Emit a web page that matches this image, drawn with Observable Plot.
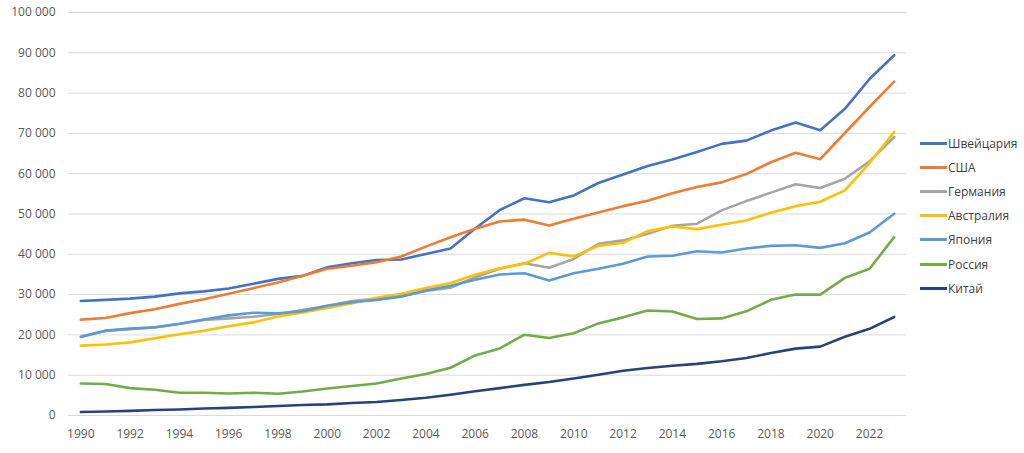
<!DOCTYPE html>
<html>
<head>
<meta charset="utf-8">
<script src="https://cdn.jsdelivr.net/npm/d3@7"></script>
<script src="https://cdn.jsdelivr.net/npm/@observablehq/plot@0.6"></script>
<style>
  html, body { margin: 0; padding: 0; background: #fff; }
  #wrap { position: relative; width: 1024px; height: 453px; font-family: "Open Sans", sans-serif; }
  #legend { position: absolute; left: 920px; top: 131px; font-size: 12px; color: #404040; }
  .item { height: 24.2px; display: flex; align-items: center; }
  .swatch { width: 27px; height: 3px; margin-right: 1px; }
</style>
</head>
<body>
<div id="wrap"><div id="chart"></div><div id="legend"></div></div>
<script>
const years = d3.range(1990, 2024);
const countries = ["Швейцария", "США", "Германия", "Австралия", "Япония", "Россия", "Китай"];
const colors = ["#4472C4", "#ED7D31", "#A5A5A5", "#FFC000", "#5B9BD5", "#70AD47", "#264478"];

const switzerland = [28400, 28700, 29000, 29500, 30300, 30800, 31500, 32700, 33900, 34650, 36800, 37800, 38600, 38700, 40100, 41450, 46400, 51000, 53900, 52900, 54600, 57700, 59800, 61900, 63500, 65400, 67400, 68200, 70700, 72700, 70800, 76100, 83500, 89400];
const usa = [23800, 24200, 25400, 26350, 27700, 28850, 30200, 31600, 33000, 34650, 36400, 37150, 38050, 39450, 41900, 44250, 46350, 48150, 48600, 47150, 48800, 50400, 51950, 53300, 55150, 56700, 57850, 59900, 62850, 65200, 63600, 70100, 76550, 82850];
const germany = [19600, 21000, 21400, 21850, 22700, 23700, 24100, 24500, 25200, 26200, 27200, 28400, 29000, 29600, 30900, 31700, 34300, 36400, 37800, 36650, 38850, 42600, 43450, 45100, 47100, 47600, 50900, 53200, 55300, 57400, 56450, 58750, 63050, 69100];
const australia = [17350, 17600, 18150, 19150, 20150, 21050, 22150, 23100, 24550, 25550, 26700, 27850, 29200, 30200, 31650, 32900, 34900, 36550, 37650, 40350, 39450, 42100, 42850, 45750, 46900, 46250, 47350, 48400, 50300, 51950, 53050, 55850, 62650, 70350];
const japan = [19500, 21050, 21550, 21900, 22750, 23800, 24850, 25500, 25350, 25850, 27250, 28100, 28700, 29500, 31000, 32200, 33700, 35000, 35300, 33500, 35300, 36400, 37650, 39450, 39650, 40750, 40450, 41450, 42100, 42250, 41600, 42750, 45400, 50050];
const russia = [7950, 7800, 6800, 6400, 5650, 5650, 5450, 5650, 5400, 5950, 6700, 7300, 7950, 9200, 10300, 11850, 14900, 16650, 20050, 19250, 20400, 22850, 24350, 26050, 25800, 23950, 24100, 25850, 28700, 30000, 30000, 34150, 36400, 44250];
const china = [850, 1000, 1150, 1350, 1500, 1750, 1900, 2100, 2350, 2600, 2750, 3100, 3350, 3850, 4400, 5150, 6000, 6800, 7600, 8300, 9200, 10100, 11100, 11800, 12350, 12800, 13450, 14250, 15500, 16600, 17100, 19550, 21500, 24450];

const yTicks = d3.range(0, 100001, 10000);
const xTicks = d3.range(1990, 2023, 2);

const seriesValues = [switzerland, usa, germany, australia, japan, russia, china];
const data = countries.flatMap((c, i) => years.map((y, j) => ({country: c, year: y, value: seriesValues[i][j]})));

const locale = d3.formatLocale({decimal: ",", thousands: "\u00a0", grouping: [3], currency: ["", ""]});
const fmt = locale.format(",");

const chart = Plot.plot({
  width: 910,
  height: 453,
  marginLeft: 68,
  marginRight: 4,
  marginTop: 12,
  marginBottom: 38,
  style: {fontFamily: "Open Sans, sans-serif", fontSize: "12px", color: "#595959", background: "#fff"},
  x: {domain: [1989.5, 2023.5], ticks: xTicks, tickFormat: "d", tickSize: 0, tickPadding: 14, label: null},
  y: {domain: [0, 100000], ticks: yTicks, tickFormat: fmt, tickSize: 0, tickPadding: 13, label: null},
  color: {domain: countries, range: colors},
  marks: [
    Plot.ruleY(yTicks, {stroke: "#d9d9d9", strokeWidth: 1, strokeOpacity: 1}),
    Plot.axisX({ticks: xTicks, tickFormat: "d", tickSize: 0, tickPadding: 14, fill: "#595959", label: null}),
    Plot.axisY({ticks: yTicks, tickFormat: fmt, tickSize: 0, tickPadding: 13, fill: "#595959", label: null}),
    Plot.line(data, {x: "year", y: "value", z: "country", stroke: "country", strokeWidth: 2.6, strokeLinejoin: "round", strokeLinecap: "round"})
  ]
});
document.getElementById("chart").appendChild(chart);

const legend = document.getElementById("legend");
countries.forEach((c, i) => {
  const row = document.createElement("div");
  row.className = "item";
  row.innerHTML = `<span class="swatch" style="background:${colors[i]}"></span><span>${c}</span>`;
  legend.appendChild(row);
});
</script>
</body>
</html>
